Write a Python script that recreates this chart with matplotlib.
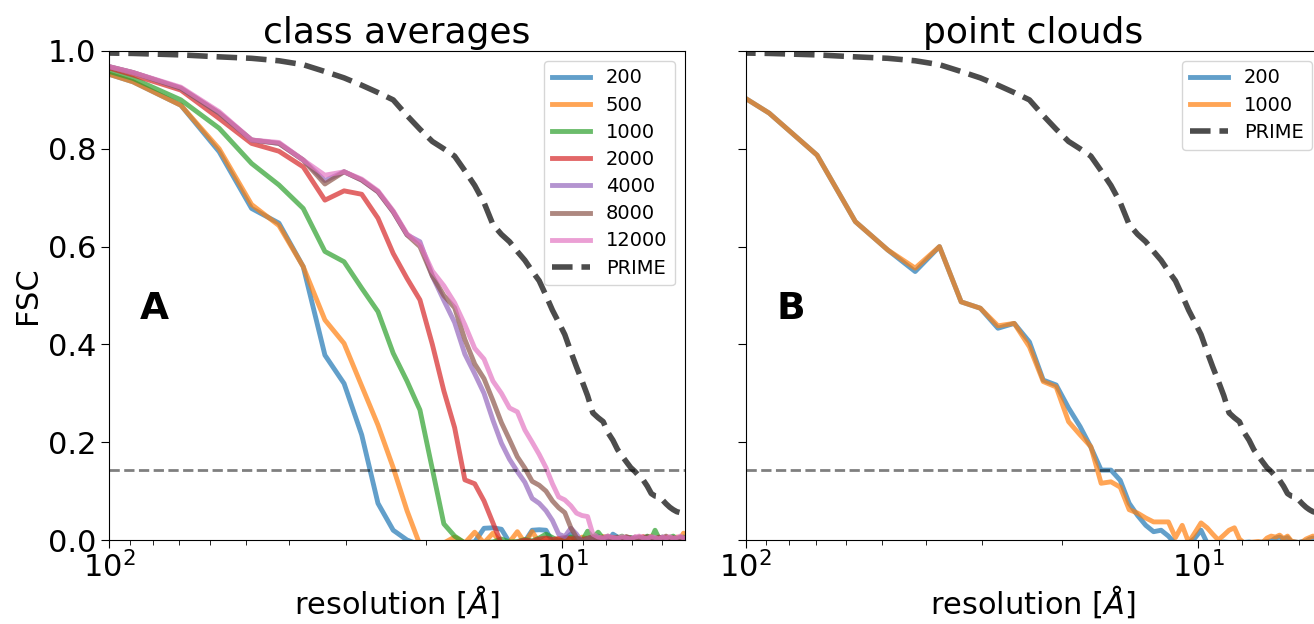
import matplotlib
matplotlib.use("Agg")
import matplotlib.pyplot as plt

# resolution of each Fourier shell [A]
res = [122.5, 88.7, 69.5, 57.2, 48.5, 42.2, 37.3, 33.4, 30.3, 27.7,
       25.5, 23.6, 22.0, 20.6, 19.34, 18.24, 17.27, 16.39, 15.59, 14.87,
       14.21, 13.61, 13.06, 12.55, 12.08, 11.64, 11.23, 10.85, 10.50, 10.17,
       9.86, 9.56, 9.29, 9.03, 8.78, 8.55, 8.32, 8.11, 7.92, 7.72,
       7.54, 7.37, 7.21, 7.05, 6.90, 6.75, 6.61, 6.48, 6.35, 6.23,
       6.11, 6.00, 5.89, 5.78, 5.68, 5.58, 5.48, 5.39, 5.30]

# FSC of class averages, by number of images
ca_200 = [0.978, 0.937, 0.889, 0.794, 0.678, 0.648, 0.559, 0.378, 0.320, 0.215,
          0.075, 0.020, 0.000, -0.010, -0.010, -0.008, -0.010, -0.005, -0.004, 0.024,
          0.025, 0.022, -0.005, -0.006, -0.003, 0.020, 0.021, 0.020, -0.004, -0.006,
          0.002, 0.012, -0.004, -0.005, 0.000, 0.004, 0.008, -0.003, -0.006, 0.012,
          0.006, -0.002, -0.006, 0.004, 0.002, -0.004, 0.003, 0.006, -0.003, -0.005,
          0.003, 0.005, -0.004, 0.002, 0.004, -0.003, 0.002, 0.005, 0.001]
ca_500 = [0.978, 0.937, 0.889, 0.800, 0.686, 0.643, 0.559, 0.450, 0.402, 0.315,
          0.235, 0.148, 0.060, -0.010, -0.010, -0.006, 0.006, -0.006, 0.016, -0.006,
          0.014, -0.006, -0.004, 0.017, -0.006, 0.017, -0.005, 0.002, -0.004, 0.003,
          -0.002, 0.004, -0.003, 0.006, 0.001, -0.004, 0.003, 0.007, -0.002, 0.004,
          -0.004, 0.005, 0.002, -0.003, 0.006, 0.001, -0.004, 0.004, 0.008, -0.002,
          0.003, -0.003, 0.005, 0.002, -0.004, 0.006, 0.002, 0.014, 0.008]
ca_1000 = [0.982, 0.944, 0.900, 0.842, 0.770, 0.726, 0.678, 0.590, 0.569, 0.515,
           0.467, 0.382, 0.325, 0.266, 0.145, 0.033, 0.008, -0.006, -0.008, -0.005,
           -0.004, 0.002, -0.004, -0.003, 0.001, -0.002, 0.004, 0.012, 0.005, -0.002,
           0.003, 0.006, 0.002, -0.002, 0.018, 0.004, 0.016, 0.003, 0.006, 0.001,
           0.004, 0.008, 0.002, 0.005, 0.000, 0.006, 0.003, 0.008, 0.002, 0.020,
           0.004, 0.006, 0.001, 0.005, 0.008, 0.002, 0.004, 0.006, 0.003]
ca_2000 = [0.989, 0.951, 0.920, 0.862, 0.811, 0.795, 0.763, 0.695, 0.714, 0.707,
           0.658, 0.586, 0.535, 0.491, 0.400, 0.305, 0.230, 0.123, 0.115, 0.080,
           0.035, -0.008, -0.006, -0.004, 0.000, -0.003, 0.002, 0.004, 0.001, 0.003,
           0.005, 0.002, 0.004, 0.001, 0.003, 0.006, 0.002, 0.004, 0.001, 0.005,
           0.003, 0.002, 0.006, 0.003, 0.001, 0.004, 0.007, 0.002, 0.004, 0.001,
           0.005, 0.003, 0.006, 0.002, 0.004, 0.001, 0.005, 0.003, 0.004]
ca_4000 = [0.988, 0.956, 0.924, 0.873, 0.818, 0.811, 0.777, 0.735, 0.753, 0.736,
           0.712, 0.671, 0.624, 0.610, 0.540, 0.490, 0.445, 0.380, 0.340, 0.300,
           0.245, 0.198, 0.165, 0.140, 0.118, 0.085, 0.075, 0.060, 0.040, 0.012,
           0.007, 0.024, 0.012, -0.004, 0.002, 0.005, 0.003, 0.001, 0.006, 0.002,
           0.004, 0.001, 0.005, 0.003, 0.006, 0.002, 0.004, 0.001, 0.005, 0.003,
           0.002, 0.006, 0.003, 0.001, 0.004, 0.002, 0.005, 0.003, 0.002]
ca_8000 = [0.988, 0.956, 0.924, 0.873, 0.818, 0.811, 0.777, 0.728, 0.753, 0.736,
           0.712, 0.671, 0.624, 0.600, 0.540, 0.500, 0.475, 0.410, 0.360, 0.330,
           0.285, 0.240, 0.205, 0.170, 0.147, 0.120, 0.112, 0.100, 0.080, 0.066,
           0.056, 0.025, 0.005, -0.003, 0.004, 0.006, 0.002, 0.005, 0.008, 0.003,
           0.006, 0.002, 0.007, 0.004, 0.002, 0.006, 0.003, 0.007, 0.004, 0.002,
           0.006, 0.004, 0.008, 0.003, 0.005, 0.002, 0.006, 0.004, 0.003]
ca_12000 = [0.988, 0.956, 0.926, 0.876, 0.818, 0.813, 0.777, 0.746, 0.753, 0.738,
            0.714, 0.673, 0.626, 0.605, 0.550, 0.520, 0.485, 0.440, 0.392, 0.370,
            0.325, 0.300, 0.270, 0.262, 0.225, 0.200, 0.175, 0.148, 0.115, 0.088,
            0.082, 0.070, 0.055, 0.050, 0.048, 0.012, 0.006, 0.004, 0.008, 0.005,
            0.003, 0.007, 0.004, 0.002, 0.006, 0.008, 0.004, 0.003, 0.007, 0.005,
            0.002, 0.006, 0.004, 0.007, 0.003, 0.005, 0.008, 0.004, 0.005]

# FSC of the PRIME reconstruction
prime = [0.997, 0.995, 0.992, 0.988, 0.985, 0.980, 0.972, 0.958, 0.945, 0.930,
         0.915, 0.900, 0.868, 0.840, 0.815, 0.800, 0.785, 0.755, 0.725, 0.690,
         0.645, 0.625, 0.610, 0.590, 0.572, 0.550, 0.530, 0.500, 0.470, 0.445,
         0.420, 0.385, 0.354, 0.325, 0.295, 0.260, 0.250, 0.242, 0.220, 0.204,
         0.185, 0.172, 0.160, 0.148, 0.140, 0.130, 0.122, 0.110, 0.095, 0.090,
         0.089, 0.082, 0.074, 0.067, 0.062, 0.058, 0.056, 0.055, 0.052]

# FSC of point clouds
pc_200 = [0.954, 0.873, 0.787, 0.651, 0.593, 0.549, 0.600, 0.487, 0.474, 0.433,
          0.443, 0.405, 0.327, 0.317, 0.270, 0.232, 0.190, 0.143, 0.143, 0.122,
          0.075, 0.050, 0.030, 0.017, 0.020, 0.008, -0.008, -0.008, -0.006, 0.004,
          0.020, -0.006, -0.005, -0.006, -0.004, -0.005, -0.006, -0.004, -0.005, -0.004,
          -0.006, -0.005, -0.004, -0.003, -0.002, 0.004, 0.006, 0.002, 0.005, -0.003,
          -0.004, -0.005, -0.003, -0.002, 0.002, 0.004, 0.003, 0.002, 0.001]
pc_1000 = [0.954, 0.873, 0.787, 0.651, 0.593, 0.556, 0.600, 0.487, 0.474, 0.438,
           0.443, 0.395, 0.324, 0.313, 0.242, 0.215, 0.191, 0.116, 0.119, 0.108,
           0.062, 0.055, 0.045, 0.037, 0.037, 0.037, 0.005, 0.030, -0.005, 0.015,
           0.035, 0.025, 0.012, 0.000, 0.010, 0.020, 0.025, 0.002, -0.006, -0.005,
           -0.004, -0.003, -0.005, 0.004, 0.008, 0.006, 0.010, 0.003, 0.008, -0.002,
           -0.004, -0.005, -0.004, 0.002, 0.005, 0.008, 0.006, 0.004, 0.003]

ca_labels = ['200', '500', '1000', '2000', '4000', '8000', '12000']
pc_labels = ['200', '1000']
threshold = 0.143

plt.rcParams['font.size'] = 22

fig = plt.figure(figsize=(13.14, 6.24), dpi=100)
ax1 = fig.add_axes([0.0832, 0.1346, 0.4381, 0.7837])
ax2 = fig.add_axes([0.5674, 0.1346, 0.4381, 0.7837], sharey=ax1)

for y, lab in zip([ca_200, ca_500, ca_1000, ca_2000, ca_4000, ca_8000, ca_12000], ca_labels):
    ax1.plot(res, y, lw=3.5, alpha=0.7, label=lab)
ax1.plot(res, prime, '--', color='k', lw=4, alpha=0.7, label='PRIME')

for y, lab in zip([pc_200, pc_1000], pc_labels):
    ax2.plot(res, y, lw=3.5, alpha=0.7, label=lab)
ax2.plot(res, prime, '--', color='k', lw=4, alpha=0.7, label='PRIME')

for ax, title, letter in [(ax1, 'class averages', 'A'), (ax2, 'point clouds', 'B')]:
    ax.axhline(threshold, ls='--', color='k', lw=2, alpha=0.5)
    ax.set_xscale('log')
    ax.set_xlim(100, 5.35)
    ax.set_ylim(0, 1)
    ax.set_title(title, fontsize=26)
    ax.set_xlabel(r'resolution [$\AA$]', labelpad=0)
    ax.tick_params(which='major', length=6, labelsize=22)
    ax.tick_params(axis='x', which='major', pad=2)
    ax.tick_params(which='minor', length=3.5)
    ax.text(0.053, 0.472, letter, transform=ax.transAxes, fontsize=27,
            fontweight='bold', ha='left', va='center')
    ax.legend(loc='upper right', fontsize=14, labelspacing=0.42)

ax1.set_ylabel('FSC')
ax1.set_yticks([0.0, 0.2, 0.4, 0.6, 0.8, 1.0])
ax2.tick_params(labelleft=False)

fig.savefig('out.png', dpi=100)
